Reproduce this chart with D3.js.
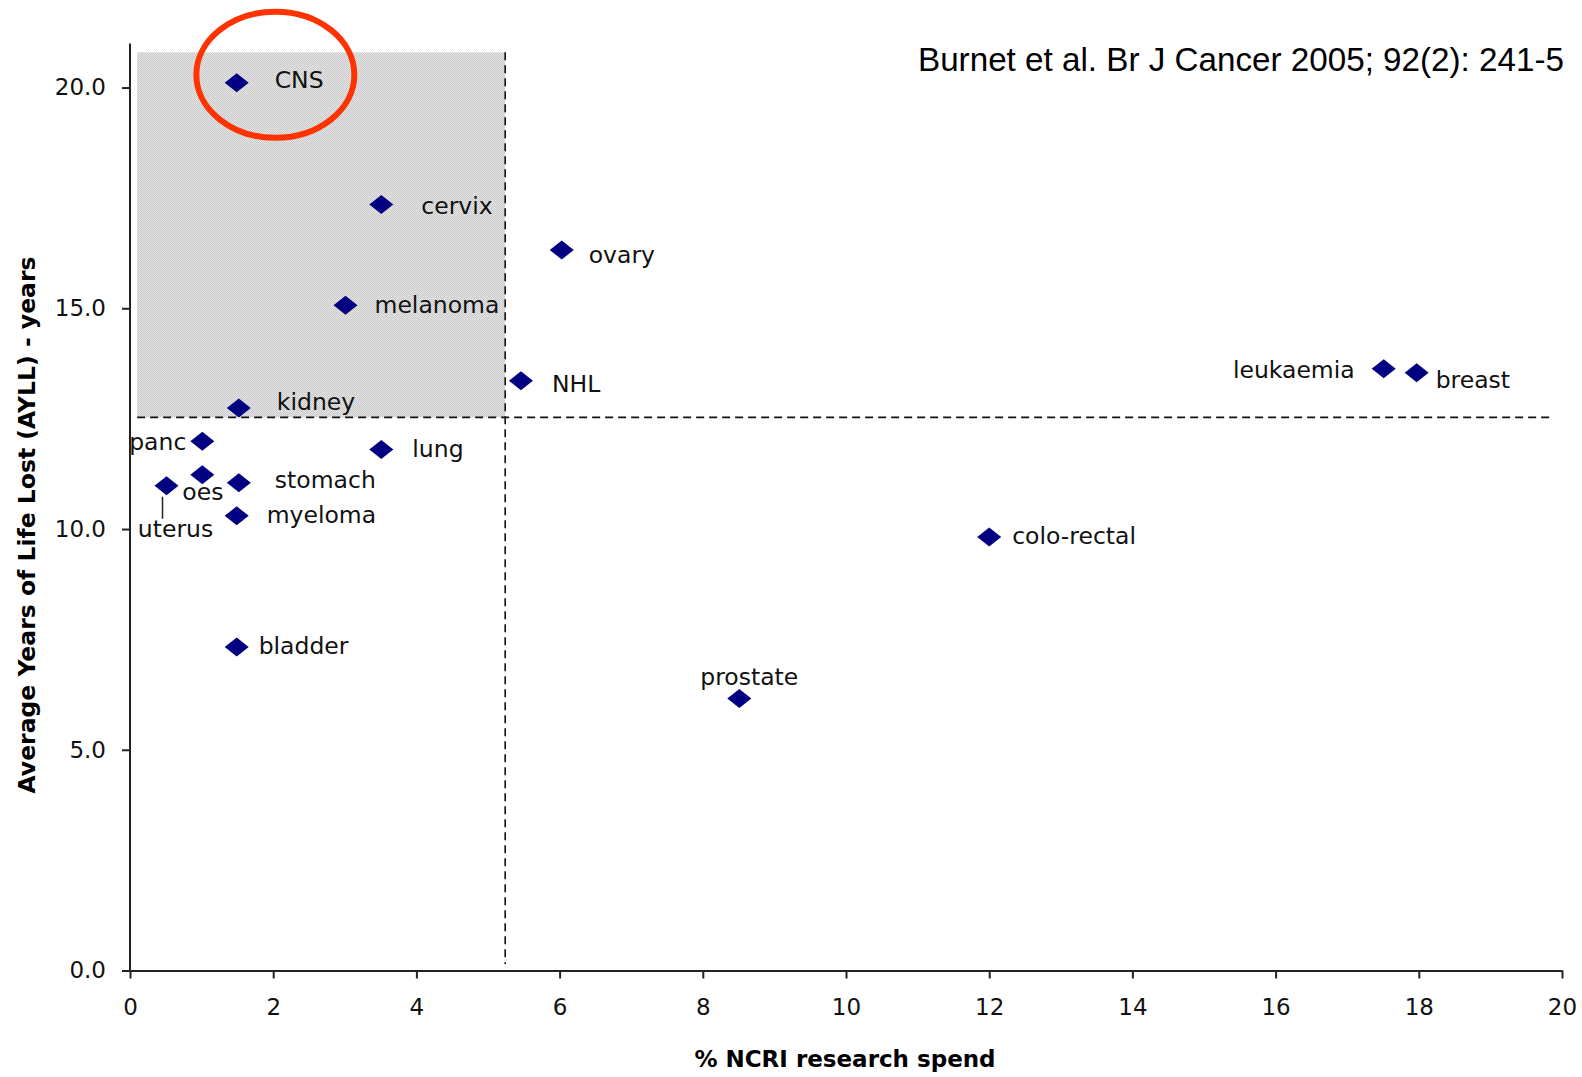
<!DOCTYPE html>
<html>
<head>
<meta charset="utf-8">
<script src="https://cdn.jsdelivr.net/npm/d3@7"></script>
<style>
  html, body { margin: 0; padding: 0; background: #fff; overflow: hidden; }
  svg { display: block; }
</style>
</head>
<body>
<script>
// cancer sites, % of NCRI research spend, average years of life lost
const sites = ['CNS', 'cervix', 'ovary', 'melanoma', 'NHL', 'leukaemia', 'breast', 'kidney',
    'panc', 'lung', 'oes', 'stomach', 'uterus', 'myeloma', 'colo-rectal', 'bladder', 'prostate']
const spend = [1.49, 3.51, 6.03, 3.01, 5.46, 17.51, 17.97, 1.52,
    1.01, 3.51, 1.01, 1.52, 0.51, 1.49, 12.0, 1.49, 8.51]
const ayll = [20.11, 17.35, 16.32, 15.07, 13.36, 13.63, 13.54, 12.74,
    11.99, 11.80, 11.23, 11.05, 10.98, 10.30, 9.82, 7.33, 6.16]

const xTicks = [0, 2, 4, 6, 8, 10, 12, 14, 16, 18, 20]
const yTicks = [0, 5, 10, 15, 20]

// thresholds: mean spend and mean AYLL
const spendCut = 5.24
const ayllCut = 12.53

// label placement (px offsets from the marker)
const labelPos = {
    'CNS': [38, -3, 'start'], 'cervix': [40, 1, 'start'], 'ovary': [27, 5, 'start'],
    'melanoma': [29, 0, 'start'], 'NHL': [31, 3, 'start'], 'leukaemia': [-29, 1, 'end'],
    'breast': [19, 7, 'start'], 'kidney': [38, -6, 'start'], 'panc': [-16, 1, 'end'],
    'lung': [31, -1, 'start'], 'oes': [-20, 17, 'start'], 'stomach': [36, -3, 'start'],
    'uterus': [9, 43, 'middle'], 'myeloma': [30, -1, 'start'], 'colo-rectal': [23, -1, 'start'],
    'bladder': [22, -1, 'start'], 'prostate': [10, -22, 'middle']
}

const FONT = '"DejaVu Sans", sans-serif'
const width = 1582, height = 1077

const svg = d3.select('body').append('svg').attr('width', width).attr('height', height)

const xScale = d3.scaleLinear().domain([0, 20]).range([130, 1562])
const yScale = d3.scaleLinear().domain([0, 21]).range([970.5, 43.4])

// dotted grey fill of the "under-funded" quadrant
const defs = svg.append('defs')
const pat = defs.append('pattern').attr('id', 'dots').attr('width', 2).attr('height', 2)
    .attr('patternUnits', 'userSpaceOnUse')
pat.append('rect').attr('width', 2).attr('height', 2).attr('fill', '#e6e6e6')
pat.append('rect').attr('width', 1).attr('height', 1).attr('fill', '#c8c8c8')
pat.append('rect').attr('x', 1).attr('y', 1).attr('width', 1).attr('height', 1).attr('fill', '#c8c8c8')

svg.append('rect')
    .attr('x', xScale(0.1)).attr('y', yScale(20.8))
    .attr('width', xScale(spendCut) - xScale(0.1))
    .attr('height', yScale(ayllCut) - yScale(20.8))
    .attr('fill', 'url(#dots)')

// dashed threshold lines
svg.append('line')
    .attr('x1', xScale(0.1)).attr('x2', xScale(19.85))
    .attr('y1', yScale(ayllCut)).attr('y2', yScale(ayllCut))
    .attr('stroke', '#111').attr('stroke-width', 1.6).attr('stroke-dasharray', '8,5')
svg.append('line')
    .attr('x1', xScale(spendCut)).attr('x2', xScale(spendCut))
    .attr('y1', yScale(20.8)).attr('y2', yScale(0.15))
    .attr('stroke', '#111').attr('stroke-width', 1.6).attr('stroke-dasharray', '8,5')

// axes
const xAxis = svg.append('g')
    .attr('transform', `translate(0, ${yScale(0)})`)
    .call(d3.axisBottom(xScale).tickValues(xTicks).tickFormat(d3.format('d')).tickSize(8).tickSizeOuter(0))
const yAxis = svg.append('g')
    .attr('transform', `translate(${xScale(0)}, 0)`)
    .call(d3.axisLeft(yScale).tickValues(yTicks).tickFormat(d3.format('.1f')).tickSize(8).tickSizeOuter(0))

for (const ax of [xAxis, yAxis]) {
    ax.select('.domain').attr('stroke', '#222').attr('stroke-width', 2)
    ax.selectAll('.tick line').attr('stroke', '#222').attr('stroke-width', 2)
    ax.selectAll('.tick text').style('font-family', FONT)
        .style('font-size', '23px').attr('fill', '#111')
}
xAxis.selectAll('.tick text').attr('y', 28).attr('dy', '0.71em')
yAxis.selectAll('.tick text').attr('x', -24)
yAxis.select('.domain').attr('d', `M0,${yScale(21)}V${yScale(0)}`)

// axis titles
svg.append('text')
    .attr('x', (xScale(0) + xScale(20)) / 2 - 1).attr('y', 1067)
    .attr('text-anchor', 'middle')
    .style('font-family', FONT).style('font-size', '23px').style('font-weight', 'bold')
    .text('% NCRI research spend')
svg.append('text')
    .attr('transform', `translate(35, 525) rotate(-90)`)
    .attr('text-anchor', 'middle')
    .style('font-family', FONT).style('font-size', '23.5px').style('font-weight', 'bold')
    .text('Average Years of Life Lost (AYLL) - years')

// citation
svg.append('text')
    .attr('x', 918).attr('y', 71)
    .attr('textLength', 646).attr('lengthAdjust', 'spacingAndGlyphs')
    .style('font-family', '"Liberation Sans", Arial, sans-serif')
    .style('font-size', '34px')
    .text('Burnet et al.  Br J Cancer 2005; 92(2): 241-5')

const pts = sites.map((name, i) => ({name, x: spend[i], y: ayll[i]}))

// leader line for uterus
const ut = pts.find(d => d.name === 'uterus')
svg.append('line')
    .attr('x1', xScale(ut.x) - 4).attr('x2', xScale(ut.x) - 4)
    .attr('y1', yScale(ut.y) + 11).attr('y2', yScale(ut.y) + 33)
    .attr('stroke', '#222').attr('stroke-width', 1.5)

// markers
const diamond = 'M0,-9.5L12,0L0,9.5L-12,0Z'
svg.append('g').selectAll('path').data(pts).join('path')
    .attr('d', diamond)
    .attr('transform', d => `translate(${xScale(d.x)}, ${yScale(d.y)})`)
    .attr('fill', '#000080')

// labels
svg.append('g').selectAll('text').data(pts).join('text')
    .attr('x', d => xScale(d.x) + labelPos[d.name][0])
    .attr('y', d => yScale(d.y) + labelPos[d.name][1])
    .attr('text-anchor', d => labelPos[d.name][2])
    .attr('dominant-baseline', 'central')
    .style('font-family', FONT).style('font-size', '23.5px')
    .attr('fill', '#111')
    .text(d => d.name)

// red ring around CNS
svg.append('ellipse')
    .attr('cx', xScale(2.03)).attr('cy', yScale(20.29))
    .attr('rx', 79).attr('ry', 63)
    .attr('fill', 'none').attr('stroke', '#ff3300').attr('stroke-width', 6)
</script>
</body>
</html>
